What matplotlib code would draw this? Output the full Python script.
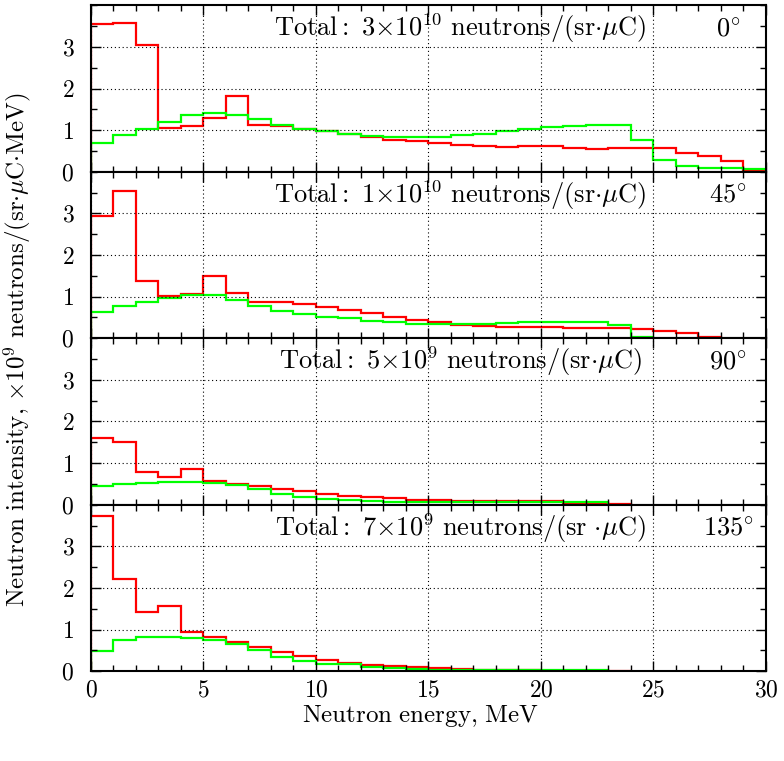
import numpy as np
import matplotlib
matplotlib.use("Agg")
import matplotlib.pyplot as plt
from matplotlib.ticker import MultipleLocator

plt.rcParams['font.family'] = 'serif'
plt.rcParams['font.serif'] = ['cmr10', 'DejaVu Serif']
plt.rcParams['mathtext.fontset'] = 'cm'
plt.rcParams['axes.formatter.use_mathtext'] = True

# energy bins, MeV (1 MeV wide)
energy_edges = list(range(31))

# spectra, x1e9 neutrons/(sr uC MeV); red and green series for each angle
red_0 = [3.54, 3.57, 3.05, 1.05, 1.11, 1.30, 1.83, 1.13, 1.09, 1.02,
         0.99, 0.91, 0.84, 0.77, 0.75, 0.69, 0.65, 0.62, 0.60, 0.61,
         0.61, 0.58, 0.55, 0.57, 0.58, 0.58, 0.45, 0.37, 0.25, 0.04]
green_0 = [0.68, 0.88, 1.04, 1.20, 1.37, 1.42, 1.37, 1.27, 1.12, 1.04,
           0.97, 0.92, 0.87, 0.84, 0.83, 0.84, 0.88, 0.92, 0.97, 1.03,
           1.08, 1.11, 1.12, 1.12, 0.76, 0.28, 0.14, 0.10, 0.08, 0.06]

red_45 = [2.94, 3.54, 1.38, 1.01, 1.06, 1.50, 1.08, 0.86, 0.86, 0.82,
          0.74, 0.68, 0.60, 0.50, 0.44, 0.38, 0.32, 0.30, 0.28, 0.28,
          0.26, 0.24, 0.24, 0.24, 0.22, 0.17, 0.12, 0.02]
green_45 = [0.64, 0.78, 0.88, 0.96, 1.04, 1.04, 0.93, 0.78, 0.66, 0.58,
            0.52, 0.48, 0.42, 0.38, 0.35, 0.35, 0.34, 0.35, 0.37, 0.38,
            0.38, 0.39, 0.40, 0.32, 0.02]

red_90 = [1.60, 1.50, 0.78, 0.66, 0.86, 0.57, 0.49, 0.45, 0.38, 0.34,
          0.26, 0.22, 0.18, 0.15, 0.12, 0.11, 0.10, 0.10, 0.08, 0.08,
          0.08, 0.04, 0.04, 0.02]
green_90 = [0.45, 0.51, 0.52, 0.54, 0.54, 0.53, 0.48, 0.37, 0.26, 0.18,
            0.14, 0.12, 0.10, 0.07, 0.06, 0.07, 0.07, 0.07, 0.07, 0.07,
            0.07, 0.07, 0.07]

red_135 = [3.73, 2.21, 1.43, 1.57, 0.94, 0.82, 0.71, 0.59, 0.47, 0.37,
           0.27, 0.19, 0.15, 0.13, 0.10, 0.07, 0.06, 0.03, 0.03, 0.03,
           0.01, 0.01, 0.01, 0.01]
green_135 = [0.48, 0.76, 0.82, 0.83, 0.80, 0.76, 0.65, 0.51, 0.35, 0.25,
             0.18, 0.17, 0.10, 0.08, 0.06, 0.03, 0.03, 0.03, 0.03, 0.03,
             0.03, 0.03, 0.03]

totals = [r'$\mathrm{Total{:}\ 3{\times}10^{10}\ neutrons/(sr}{\cdot}\mu\mathrm{C)}$',
          r'$\mathrm{Total{:}\ 1{\times}10^{10}\ neutrons/(sr}{\cdot}\mu\mathrm{C)}$',
          r'$\mathrm{Total{:}\ 5{\times}10^{9}\ neutrons/(sr}{\cdot}\mu\mathrm{C)}$',
          r'$\mathrm{Total{:}\ 7{\times}10^{9}\ neutrons/(sr\ }{\cdot}\mu\mathrm{C)}$']
angles = [r'$0^{\circ}$', r'$45^{\circ}$', r'$90^{\circ}$', r'$135^{\circ}$']

reds = [red_0, red_45, red_90, red_135]
greens = [green_0, green_45, green_90, green_135]

fig, axes = plt.subplots(4, 1, figsize=(7.84, 7.61), dpi=100, sharex=True)
fig.subplots_adjust(left=0.116, right=0.977, top=0.993, bottom=0.118, hspace=0)

for i, ax in enumerate(axes):
    r = reds[i]
    g = greens[i]
    ax.stairs(r, energy_edges[:len(r) + 1], baseline=0, color='#ff0000', lw=1.6)
    ax.stairs(g, energy_edges[:len(g) + 1], baseline=0, color='#00ff00', lw=1.6)
    ax.set_xlim(0, 30)
    ax.set_ylim(0, 4)
    ax.set_yticks([0, 1, 2, 3])
    ax.yaxis.set_minor_locator(MultipleLocator(0.5))
    ax.xaxis.set_major_locator(MultipleLocator(5))
    ax.xaxis.set_minor_locator(MultipleLocator(1))
    ax.tick_params(which='both', direction='in', top=True, right=True,
                   labelsize=17, width=1.0)
    ax.tick_params(which='major', length=7)
    ax.tick_params(which='minor', length=4)
    ax.tick_params(axis='y', pad=12)
    ax.tick_params(axis='x', pad=6)
    ax.grid(True, which='major', linestyle=(0, (1, 2.5)), color='black', lw=0.8)
    for s in ax.spines.values():
        s.set_linewidth(1.5)
    ax.text(0.547, 0.813, totals[i], transform=ax.transAxes, ha='center',
            va='baseline', fontsize=19)
    ax.text(0.944, 0.813, angles[i], transform=ax.transAxes, ha='center',
            va='baseline', fontsize=19)

fig.text(0.022, 0.54, r'$\mathrm{Neutron\ intensity{,}\ {\times}10^{9}\ neutrons/(sr}{\cdot}\mu\mathrm{C{\cdot}MeV)}$',
         rotation=90, ha='center', va='center', fontsize=18)
fig.text(0.536, 0.059, r'$\mathrm{Neutron\ energy{,}\ MeV}$', ha='center',
         va='center', fontsize=18)

fig.savefig('out.png', dpi=100)
